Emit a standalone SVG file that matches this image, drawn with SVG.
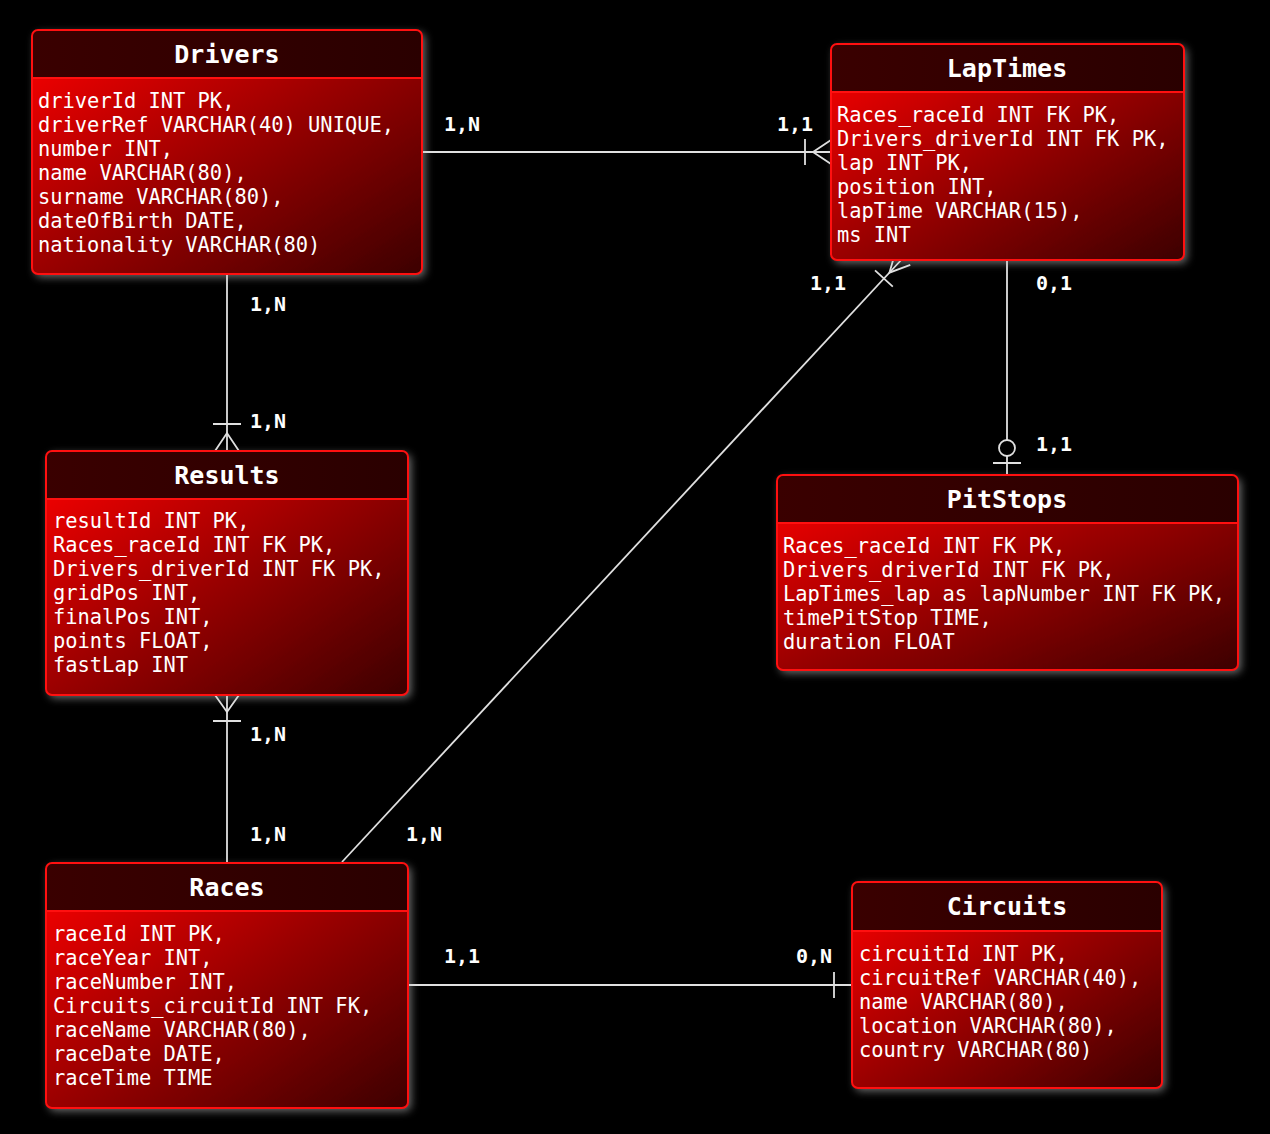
<svg xmlns="http://www.w3.org/2000/svg" width="1270" height="1134" viewBox="0 0 1270 1134">
<defs>
<linearGradient id="body" x1="0" y1="0" x2="1" y2="1">
<stop offset="0" stop-color="#ff0000"/>
<stop offset="0.5" stop-color="#9a0000"/>
<stop offset="1" stop-color="#3c0000"/>
</linearGradient>
<linearGradient id="head" x1="0" y1="0" x2="1" y2="0">
<stop offset="0" stop-color="#3a0000"/>
<stop offset="1" stop-color="#2a0000"/>
</linearGradient>
<filter id="sh" x="-10%" y="-10%" width="125%" height="130%">
<feDropShadow dx="3" dy="3" stdDeviation="4" flood-color="#bbbbbb" flood-opacity="0.6"/>
</filter>
</defs>
<style>
.bg{fill:url(#body);filter:url(#sh)}
.hd{fill:url(#head)}
.bd{fill:none;stroke:#ff1010;stroke-width:2}
.title{font-family:"DejaVu Sans Mono",monospace;font-weight:bold;font-size:25px;fill:#ffffff;text-anchor:middle}
.f{font-family:"DejaVu Sans Mono",monospace;font-size:20.4px;fill:#ffffff}
.lbl{font-family:"DejaVu Sans Mono",monospace;font-weight:bold;font-size:20px;fill:#ffffff}
.c{fill:none;stroke:#e0e0e0;stroke-width:1.8}
</style>
<rect x="0" y="0" width="1270" height="1134" fill="#000000"/>

<g id="connectors">
<path class="c" d="M422,152 H831"/>
<path class="c" d="M831,140 L813,152 L831,164 M805,139 V165"/>
<path class="c" d="M227,274 V451"/>
<path class="c" d="M213,424 H241 M215,451 L227,433 L239,451"/>
<path class="c" d="M227,695 V863"/>
<path class="c" d="M215,695 L227,712 L239,695 M213,721 H241"/>
<path class="c" d="M1007,260 V440 M1007,456 V475 M993,463 H1021"/>
<circle class="c" cx="1007" cy="448" r="8" fill="#000"/>
<path class="c" d="M408,985 H852 M834,972 V998"/>
<path class="c" d="M342,862 L903,258"/>
<path class="c" d="M895.7,251.2 L889.4,272.7 L910.3,264.8 M875,270.3 L892.8,286.7"/>
<text class="lbl" x="444" y="131">1,N</text>
<text class="lbl" x="777" y="131">1,1</text>
<text class="lbl" x="250" y="311">1,N</text>
<text class="lbl" x="250" y="428">1,N</text>
<text class="lbl" x="250" y="741">1,N</text>
<text class="lbl" x="250" y="841">1,N</text>
<text class="lbl" x="406" y="841">1,N</text>
<text class="lbl" x="810" y="290">1,1</text>
<text class="lbl" x="1036" y="290">0,1</text>
<text class="lbl" x="1036" y="451">1,1</text>
<text class="lbl" x="444" y="963">1,1</text>
<text class="lbl" x="796" y="963">0,N</text>
</g>

<g id="Drivers">
<rect class="bg" x="32" y="30" width="390" height="244" rx="6"/>
<path class="hd" d="M32,78 V36 Q32,30 38,30 H416 Q422,30 422,36 V78 Z"/>
<rect class="bd" x="32" y="30" width="390" height="244" rx="6"/>
<path class="bd" d="M32,78 H422"/>
<text class="title" x="227" y="63">Drivers</text>
<text class="f" x="38" y="108">driverId INT PK,</text>
<text class="f" x="38" y="132">driverRef VARCHAR(40) UNIQUE,</text>
<text class="f" x="38" y="156">number INT,</text>
<text class="f" x="38" y="180">name VARCHAR(80),</text>
<text class="f" x="38" y="204">surname VARCHAR(80),</text>
<text class="f" x="38" y="228">dateOfBirth DATE,</text>
<text class="f" x="38" y="252">nationality VARCHAR(80)</text>
</g>

<g id="LapTimes">
<rect class="bg" x="831" y="44" width="353" height="216" rx="6"/>
<path class="hd" d="M831,92 V50 Q831,44 837,44 H1178 Q1184,44 1184,50 V92 Z"/>
<rect class="bd" x="831" y="44" width="353" height="216" rx="6"/>
<path class="bd" d="M831,92 H1184"/>
<text class="title" x="1007" y="77">LapTimes</text>
<text class="f" x="837" y="122">Races_raceId INT FK PK,</text>
<text class="f" x="837" y="146">Drivers_driverId INT FK PK,</text>
<text class="f" x="837" y="170">lap INT PK,</text>
<text class="f" x="837" y="194">position INT,</text>
<text class="f" x="837" y="218">lapTime VARCHAR(15),</text>
<text class="f" x="837" y="242">ms INT</text>
</g>

<g id="Results">
<rect class="bg" x="46" y="451" width="362" height="244" rx="6"/>
<path class="hd" d="M46,499 V457 Q46,451 52,451 H402 Q408,451 408,457 V499 Z"/>
<rect class="bd" x="46" y="451" width="362" height="244" rx="6"/>
<path class="bd" d="M46,499 H408"/>
<text class="title" x="227" y="484">Results</text>
<text class="f" x="53" y="528">resultId INT PK,</text>
<text class="f" x="53" y="552">Races_raceId INT FK PK,</text>
<text class="f" x="53" y="576">Drivers_driverId INT FK PK,</text>
<text class="f" x="53" y="600">gridPos INT,</text>
<text class="f" x="53" y="624">finalPos INT,</text>
<text class="f" x="53" y="648">points FLOAT,</text>
<text class="f" x="53" y="672">fastLap INT</text>
</g>

<g id="PitStops">
<rect class="bg" x="777" y="475" width="461" height="195" rx="6"/>
<path class="hd" d="M777,523 V481 Q777,475 783,475 H1232 Q1238,475 1238,481 V523 Z"/>
<rect class="bd" x="777" y="475" width="461" height="195" rx="6"/>
<path class="bd" d="M777,523 H1238"/>
<text class="title" x="1007" y="508">PitStops</text>
<text class="f" x="783" y="553">Races_raceId INT FK PK,</text>
<text class="f" x="783" y="577">Drivers_driverId INT FK PK,</text>
<text class="f" x="783" y="601">LapTimes_lap as lapNumber INT FK PK,</text>
<text class="f" x="783" y="625">timePitStop TIME,</text>
<text class="f" x="783" y="649">duration FLOAT</text>
</g>

<g id="Races">
<rect class="bg" x="46" y="863" width="362" height="245" rx="6"/>
<path class="hd" d="M46,911 V869 Q46,863 52,863 H402 Q408,863 408,869 V911 Z"/>
<rect class="bd" x="46" y="863" width="362" height="245" rx="6"/>
<path class="bd" d="M46,911 H408"/>
<text class="title" x="227" y="896">Races</text>
<text class="f" x="53" y="941">raceId INT PK,</text>
<text class="f" x="53" y="965">raceYear INT,</text>
<text class="f" x="53" y="989">raceNumber INT,</text>
<text class="f" x="53" y="1013">Circuits_circuitId INT FK,</text>
<text class="f" x="53" y="1037">raceName VARCHAR(80),</text>
<text class="f" x="53" y="1061">raceDate DATE,</text>
<text class="f" x="53" y="1085">raceTime TIME</text>
</g>

<g id="Circuits">
<rect class="bg" x="852" y="882" width="310" height="206" rx="6"/>
<path class="hd" d="M852,931 V888 Q852,882 858,882 H1156 Q1162,882 1162,888 V931 Z"/>
<rect class="bd" x="852" y="882" width="310" height="206" rx="6"/>
<path class="bd" d="M852,931 H1162"/>
<text class="title" x="1007" y="915">Circuits</text>
<text class="f" x="859" y="961">circuitId INT PK,</text>
<text class="f" x="859" y="985">circuitRef VARCHAR(40),</text>
<text class="f" x="859" y="1009">name VARCHAR(80),</text>
<text class="f" x="859" y="1033">location VARCHAR(80),</text>
<text class="f" x="859" y="1057">country VARCHAR(80)</text>
</g>
</svg>
